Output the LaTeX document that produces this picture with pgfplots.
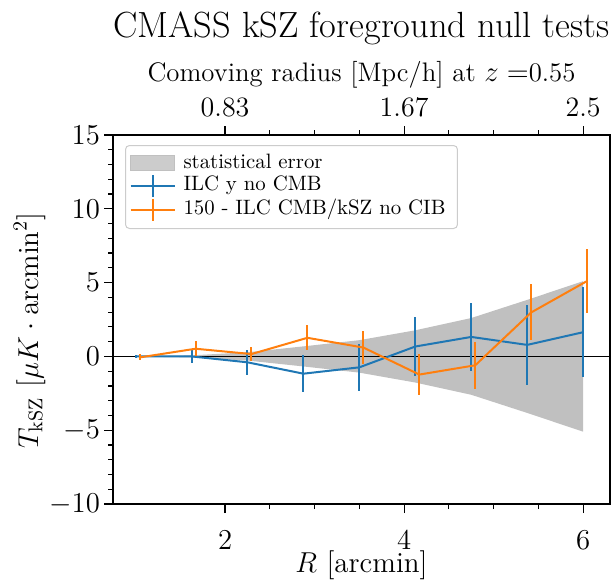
\documentclass[border=0pt]{standalone}
\usepackage{pgfplots}
\pgfplotsset{compat=1.18}

\definecolor{c1}{HTML}{1F77B4}
\definecolor{c2}{HTML}{FF7F0E}
\definecolor{statgray}{HTML}{C0C0C0}

\newcommand{\fs}[1]{\fontsize{#1}{#1}\selectfont}

\begin{document}
\begin{tikzpicture}
    \begin{axis}[
    scale only axis,
    width=248.5pt, height=184.5pt,
    xmin=0.748, xmax=6.3,
    ymin=-10, ymax=15,
    xtick={2,4,6},
    minor x tick num=3,
    ytick={-10,-5,0,5,10,15},
    minor y tick num=4,
    tick pos=left,
    tick align=outside,
    major tick length=4.5pt,
    minor tick length=2.5pt,
    every tick/.style={black, line width=0.6pt},
    axis line style={line width=0.6pt},
    tick label style={font=\fs{14}},
    xticklabel style={inner ysep=1pt, yshift=-7.6pt},
    yticklabel style={xshift=1.5pt},
    xlabel={$R$ [arcmin]},
    ylabel={$T_{\rm kSZ}$ [$\mu K\cdot{\rm arcmin}^2$]},
    label style={font=\fs{14.5}},
    xlabel style={at={(axis description cs:0.5,0)}, anchor=base, inner sep=1pt, yshift=-34pt},
    ylabel style={at={(axis description cs:0,0.5)}, anchor=base, yshift=37.5pt, xshift=-5.5pt},
    legend style={
        at={(0,1)}, anchor=north west, xshift=6pt, yshift=-5pt,
        draw=black!20, line width=0.5pt, rounded corners=2pt,
        fill=white, fill opacity=0.8, text opacity=1,
        font=\fs{10.4},
        inner xsep=2pt, inner ysep=3.5pt,
        row sep=0pt,
        cells={anchor=west},
        nodes={inner xsep=4pt, inner ysep=0.5pt, text height=7.3pt, text depth=2.2pt},
    },
    ]
    \coordinate (BL) at (rel axis cs:0,0);
    \coordinate (TR) at (rel axis cs:1,1);
    % statistical error band
    \addplot[fill=statgray, draw=none, forget plot] coordinates {
        (1.000, 0.01) (1.625, 0.07) (2.250, 0.28) (2.875, 0.68) (3.500, 1.10)
        (4.125, 1.77) (4.750, 2.60) (5.375, 3.83) (6.000, 5.10)
        (6.000,-5.10) (5.375,-3.83) (4.750,-2.60) (4.125,-1.77) (3.500,-1.10)
        (2.875,-0.68) (2.250,-0.28) (1.625,-0.07) (1.000,-0.01)
    };
    \addplot[black, line width=0.7pt, forget plot] coordinates {(0,0) (7,0)};

    \addlegendimage{legend image code/.code={\fill[statgray, sharp corners] (0pt,-3.75pt) rectangle (22pt,3.75pt);}}
    \addlegendentry{statistical error}
    \addlegendimage{legend image code/.code={
        \draw[c1, line width=1pt, sharp corners] (0pt,0pt) -- (22pt,0pt);
        \draw[c1, line width=1pt, sharp corners] (11pt,-5.5pt) -- (11pt,5.5pt);}}
    \addlegendentry{ILC y no CMB}
    \addlegendimage{legend image code/.code={
        \draw[c2, line width=1pt, sharp corners] (0pt,0pt) -- (22pt,0pt);
        \draw[c2, line width=1pt, sharp corners] (11pt,-5.5pt) -- (11pt,5.5pt);}}
    \addlegendentry{150 - ILC CMB/kSZ no CIB}

    % ILC y no CMB
    \addplot[c1, line width=1pt, forget plot,
        error bars/.cd, y dir=both, y explicit, error mark=none,
        error bar style={line width=1pt}]
    coordinates {
        (1.000, 0.00) +- (0,0.12)
        (1.625, 0.00) +- (0,0.45)
        (2.250,-0.40) +- (0,0.85)
        (2.875,-1.17) +- (0,1.25)
        (3.500,-0.74) +- (0,1.60)
        (4.125, 0.67) +- (0,2.00)
        (4.750, 1.32) +- (0,2.30)
        (5.375, 0.78) +- (0,2.70)
        (6.000, 1.64) +- (0,3.03)
    };
    % 150 - ILC CMB/kSZ no CIB
    \addplot[c2, line width=1pt, forget plot,
        error bars/.cd, y dir=both, y explicit, error mark=none,
        error bar style={line width=1pt}]
    coordinates {
        (1.045,-0.07) +- (0,0.20)
        (1.670, 0.52) +- (0,0.50)
        (2.295, 0.16) +- (0,0.50)
        (2.920, 1.26) +- (0,0.84)
        (3.545, 0.60) +- (0,1.10)
        (4.170,-1.23) +- (0,1.38)
        (4.795,-0.60) +- (0,1.60)
        (5.420, 2.98) +- (0,1.90)
        (6.045, 5.11) +- (0,2.18)
    };
    \end{axis}

    % top axis: comoving radius
    \begin{axis}[
    scale only axis,
    width=248.5pt, height=184.5pt,
    xmin=0.748, xmax=6.3,
    ymin=-10, ymax=15,
    axis x line*=top,
    hide y axis,
    xtick={2,4,6},
    xticklabels={0.83,1.67,2.5},
    minor x tick num=3,
    xticklabel pos=upper,
    tick align=outside,
    major tick length=4.5pt,
    minor tick length=2.5pt,
    every tick/.style={black, line width=0.6pt},
    axis line style={line width=0.6pt, -},
    tick label style={font=\fs{14}},
    xticklabel style={yshift=1pt},
    xlabel={Comoving radius [Mpc/h] at $z=$0.55},
    xlabel style={font=\fs{13.4}, at={(axis description cs:0.5,1)}, anchor=base, yshift=26.5pt},
    title={CMASS kSZ foreground null tests},
    title style={font=\fs{18.2}, at={(axis description cs:0.5,1)}, anchor=base, yshift=42.5pt},
    ]
    \end{axis}

    % keep the page the size of the reference
    \pgfresetboundingbox
    \useasboundingbox ([shift={(-56.5pt,-37.5pt)}]BL) rectangle ([shift={(1.5pt,67.5pt)}]TR);
\end{tikzpicture}
\end{document}
